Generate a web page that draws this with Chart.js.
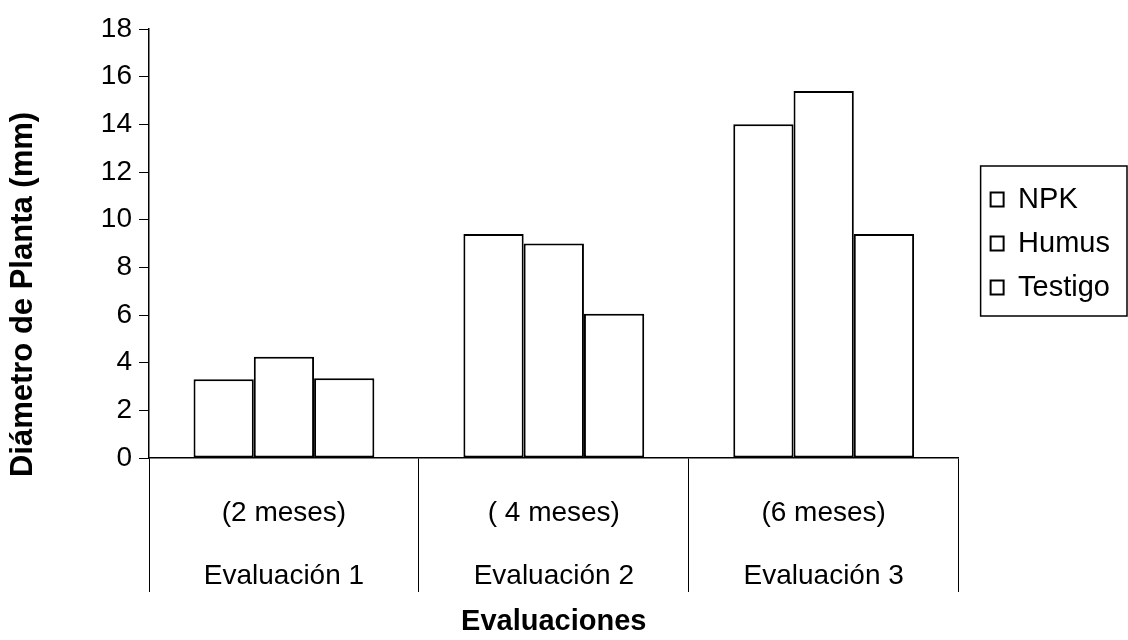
<!DOCTYPE html>
<html>
<head>
<meta charset="utf-8">
<script src="https://cdn.jsdelivr.net/npm/chart.js@4/dist/chart.umd.min.js"></script>
<style>
  html, body { margin: 0; padding: 0; background: #fff; }
  #wrap { width: 1128px; height: 640px; }
</style>
</head>
<body>
<div id="wrap"><canvas id="c" width="1128" height="640"></canvas></div>
<script>
// Diámetro de planta por evaluación y tratamiento
const periodos = ['(2 meses)', '( 4 meses)', '(6 meses)'];
const evaluaciones = ['Evaluación 1', 'Evaluación 2', 'Evaluación 3'];
const npk = [3.3, 9.4, 14.0];
const humus = [4.25, 9.0, 15.4];
const testigo = [3.35, 6.05, 9.4];
const yTicks = [0, 2, 4, 6, 8, 10, 12, 14, 16, 18];
const tituloY = 'Diámetro de Planta (mm)';
const tituloX = 'Evaluaciones';

const FONT = "'Liberation Sans', Arial, Helvetica, sans-serif";
const labels = periodos.map((p, i) => [p, evaluaciones[i]]);

function serie(nombre, datos) {
  return {
    label: nombre,
    data: datos,
    backgroundColor: '#ffffff',
    borderColor: '#000000',
    borderWidth: 2,
    borderSkipped: false,
    categoryPercentage: 0.67,
    barPercentage: 1.0
  };
}

// Nudges the legend to the right and frames it; also writes the vertical axis title
const marcoLeyenda = {
  id: 'marcoLeyenda',
  afterLayout(chart) {
    const lg = chart.legend;
    lg.left += 17;
    lg.right += 17;
  },
  afterDraw(chart) {
    const lg = chart.legend;
    const ctx = chart.ctx;
    const hb = lg.legendHitBoxes;
    if (hb && hb.length) {
      const top = hb[0].top - 19;
      const last = hb[hb.length - 1];
      const bottom = last.top + last.height + 14;
      const left = hb[0].left - 10;
      const right = chart.width - 1;
      ctx.save();
      ctx.strokeStyle = '#000';
      ctx.lineWidth = 1.5;
      ctx.strokeRect(left, top, right - left, bottom - top);
      ctx.restore();
    }
    // axis title on the left
    const y = chart.scales.y;
    ctx.save();
    ctx.fillStyle = '#000';
    ctx.font = 'bold 31px ' + FONT;
    ctx.textAlign = 'center';
    ctx.textBaseline = 'middle';
    ctx.translate(23, (y.top + y.bottom) / 2 + 51);
    ctx.rotate(-Math.PI / 2);
    ctx.fillText(tituloY, 0, 0);
    ctx.restore();
  }
};

new Chart(document.getElementById('c'), {
  type: 'bar',
  data: {
    labels: labels,
    datasets: [
      serie('NPK', npk),
      serie('Humus', humus),
      serie('Testigo', testigo)
    ]
  },
  options: {
    responsive: false,
    animation: false,
    devicePixelRatio: 1,
    layout: { padding: { top: 29, right: 25, bottom: 0, left: 0 } },
    plugins: {
      legend: {
        position: 'right',
        fullSize: false,
        align: 'center',
        labels: {
          color: '#000',
          font: { family: FONT, size: 29 },
          boxWidth: 13,
          boxHeight: 14,
          padding: 15
        }
      },
      tooltip: { enabled: false }
    },
    scales: {
      x: {
        afterFit(s) { s.height = 182; },
        grid: {
          display: true,
          offset: true,
          drawOnChartArea: false,
          drawTicks: true,
          tickLength: 134,
          color: '#000',
          lineWidth: 1
        },
        border: { display: true, color: '#000', width: 1.5 },
        ticks: {
          color: '#000',
          font: { family: FONT, size: 28, lineHeight: 2.25 },
          padding: -110,
          maxRotation: 0,
          autoSkip: false
        },
        title: {
          display: true,
          text: tituloX,
          color: '#000',
          font: { family: FONT, size: 29, weight: 'bold' },
          padding: { top: 0, bottom: 1 }
        }
      },
      y: {
        min: 0,
        max: 18,
        afterFit(s) { s.width = 149; },
        afterBuildTicks(s) { s.ticks = yTicks.map(v => ({ value: v })); },
        grid: {
          display: true,
          drawOnChartArea: false,
          drawTicks: true,
          tickLength: 10,
          color: '#000',
          lineWidth: 1
        },
        border: { display: true, color: '#000', width: 1.5 },
        ticks: {
          color: '#000',
          font: { family: FONT, size: 28 },
          padding: 7
        },
        title: { display: false }
      }
    }
  },
  plugins: [marcoLeyenda]
});
</script>
</body>
</html>
